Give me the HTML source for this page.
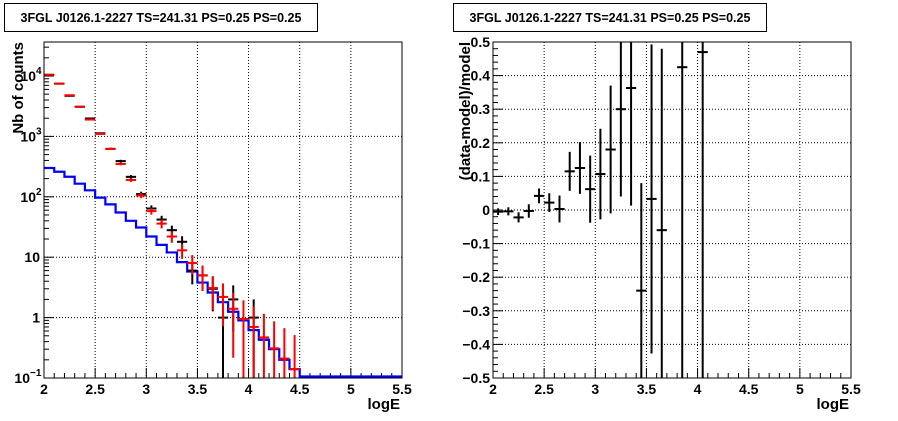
<!DOCTYPE html>
<html><head><meta charset="utf-8"><style>
body{margin:0;background:#fff;}
svg{display:block;font-family:"Liberation Sans",Arial,sans-serif;font-weight:bold;}
</style></head><body>
<svg id="s" width="898" height="421" viewBox="0 0 898 421"></svg>
<script>
const binCenters=[2.05,2.15,2.25,2.35,2.45,2.55,2.65,2.75,2.85,2.95,3.05,3.15,3.25,3.35,3.45,3.55,3.65,3.75,3.85,3.95,4.05,4.15,4.25,4.35,4.45];
const modelCounts=[10500,7500,4800,3100,1900,1100,620,350,190,105,58,36,22,13,8,5,3.1,2.2,1.4,0.95,0.7,0.47,0.31,0.21,0.14];
const dataCounts=[10450,7460,4700,3090,1980,1125,622,390,214,111,64,42,28,18,6,5,3,1,2,0,1,0,0,0,0];
const blueEdges=[2.0,2.1,2.2,2.3,2.4,2.5,2.6,2.7,2.8,2.9,3.0,3.1,3.2,3.3,3.4,3.5,3.6,3.7,3.8,3.9,4.0,4.1,4.2,4.3,4.4,4.5,5.5];
const blueValues=[300,260,215,165,128,97,75,55,40,31,22,16,12,8.3,5.8,3.8,2.6,1.8,1.25,0.9,0.62,0.43,0.3,0.2,0.14,0.1];
const residCenters=[2.05,2.15,2.25,2.35,2.45,2.55,2.65,2.75,2.85,2.95,3.05,3.15,3.25,3.35,3.45,3.55,3.65,3.85,4.05];
const residValues=[-0.005,-0.004,-0.022,-0.003,0.042,0.022,0.003,0.115,0.125,0.062,0.107,0.18,0.3,0.363,-0.24,0.033,-0.06,0.425,0.47];
const residErrors=[0.01,0.012,0.015,0.02,0.022,0.028,0.04,0.058,0.077,0.1,0.135,0.19,0.26,0.35,0.32,0.46,0.54,1.0,1.1];
const xTicks=["2","2.5","3","3.5","4","4.5","5","5.5"];
const rTicks=["0.5","0.4","0.3","0.2","0.1","0","−0.1","−0.2","−0.3","−0.4","−0.5"];

const S=document.getElementById('s'),NS='http://www.w3.org/2000/svg';
function el(t,a,p){const e=document.createElementNS(NS,t);for(const k in a)e.setAttribute(k,a[k]);(p||S).appendChild(e);return e;}
function txt(s,a,name){const e=el('text',a);e.textContent=s;return e;}

function panel(name){
  const g=el('g',{});
  
  
  return g;
}
function frameAndX(g,L,R,T,B,xs,pfx){
  for(let i=1;i<7;i++){const x=xs(2+i*0.5);el('line',{x1:x,x2:x,y1:T,y2:B,stroke:'#000','stroke-dasharray':'1,2','stroke-width':1},g);}
  for(let i=0;i<=35;i++){const v=2+i*0.1,x=xs(v);const len=(i%5==0)?10:5;el('line',{x1:x,x2:x,y1:B,y2:B-len,stroke:'#000'},g);}
  xTicks.forEach((t,i)=>txt(t,{x:xs(2+i*0.5),y:B+16,'font-size':14,'text-anchor':'middle'},pfx+'-x-tick-label'));
  txt('logE',{x:R-2,y:B+31,'font-size':15,'text-anchor':'end'},pfx+'-x-axis-title');
}

// LEFT
const L1=44,R1=402,T1=42,B1=378;
const xs1=v=>L1+(v-2)/3.5*(R1-L1);
const dec=60.4, ys1=v=>B1-(Math.log10(Math.max(v,1e-3))+1)*dec;
const gl=panel('counts-panel');
frameAndX(gl,L1,R1,T1,B1,xs1,'counts');
[0,1,2,3,4].forEach(p=>{const y=ys1(Math.pow(10,p-1));if(p>0)el('line',{x1:L1,x2:R1,y1:y,y2:y,stroke:'#000','stroke-dasharray':'1,2'},gl);});
for(let p=-1;p<=4;p++){for(let m=1;m<10;m++){const v=m*Math.pow(10,p),y=ys1(v);if(y<T1||y>B1)continue;el('line',{x1:L1,x2:L1+(m==1?10:5),y1:y,y2:y,stroke:'#000'},gl);}}
const ylab=[["10","−1"],["1",""],["10",""],["10","2"],["10","3"],["10","4"]];
ylab.forEach((l,i)=>{const y=ys1(Math.pow(10,i-1))+5;
 const ex=l[1]=="−1"?L1-14:L1-8;
 txt(l[0],{x:l[1]?ex:L1-4,y:y,'font-size':14,'text-anchor':'end'},'counts-y-tick-label');
 if(l[1]){txt(l[1],{x:ex,y:y-7,'font-size':10,'text-anchor':'start'},'counts-y-tick-exponent');}});
txt('Nb of counts',{x:0,y:0,'font-size':15,'text-anchor':'end',transform:`translate(23,${T1}) rotate(-90)`},'counts-y-axis-title');
const cp=el('clipPath',{id:'c1'});el('rect',{x:L1,y:T1,width:R1-L1,height:B1-T1},cp);
let d='';blueValues.forEach((v,i)=>{const y=Math.min(ys1(v),B1-1.5);d+=(i==0?'M':'L')+xs1(blueEdges[i])+','+y+'L'+xs1(blueEdges[i+1])+','+y;});
const bl=el('path',{d:d,fill:'none',stroke:'#0000ff','stroke-width':2.2,'clip-path':'url(#c1)'},gl);

function pt(g,xc,v,err,col,name){
  const x=xs1(xc),y=ys1(v),lo=Math.min(ys1(v-err),B1),hi=Math.max(ys1(v+err),T1);
  const gg=el('g',{},g);
  if(v>0){el('line',{x1:xs1(xc-0.05),x2:xs1(xc+0.05),y1:y,y2:y,stroke:col,'stroke-width':2},gg);}
  el('line',{x1:x,x2:x,y1:v-err<=0?B1:lo,y2:hi,stroke:col,'stroke-width':2},gg);
}
binCenters.forEach((c,i)=>{const n=dataCounts[i];if(n>0)pt(gl,c,n,Math.sqrt(n),'#000','data-point');});
binCenters.forEach((c,i)=>{const m=modelCounts[i];pt(gl,c,m,Math.sqrt(m),'#ff0000','model-point');});
el('rect',{x:L1,y:T1,width:R1-L1,height:B1-T1,fill:'none',stroke:'#000'},gl);

// RIGHT
const L2=493,R2=851,T2=42,B2=378;
const xs2=v=>L2+(v-2)/3.5*(R2-L2);
const ys2=v=>B2-(v+0.5)*(B2-T2);
const gr=panel('residual-panel');
frameAndX(gr,L2,R2,T2,B2,xs2,'residual');
rTicks.forEach((t,i)=>{const v=0.5-i*0.1,y=ys2(v);if(i>0&&i<10)el('line',{x1:L2,x2:R2,y1:y,y2:y,stroke:'#000','stroke-dasharray':'1,2'},gr);
 txt(t,{x:L2-3,y:y+5,'font-size':14,'text-anchor':'end'},'residual-y-tick-label');});
for(let i=0;i<=50;i++){const y=ys2(-0.5+i*0.02);el('line',{x1:L2,x2:L2+(i%5==0?10:5),y1:y,y2:y,stroke:'#000'},gr);}
txt('(data-model)/model',{x:0,y:0,'font-size':15,'text-anchor':'end',transform:`translate(470,${T2}) rotate(-90)`},'residual-y-axis-title');
residCenters.forEach((c,i)=>{const v=residValues[i],e=residErrors[i];const g=el('g',{},gr);
 const y=ys2(v);el('line',{x1:xs2(c-0.05),x2:xs2(c+0.05),y1:y,y2:y,stroke:'#000','stroke-width':2},g);
 el('line',{x1:xs2(c),x2:xs2(c),y1:Math.min(ys2(v-e),B2),y2:Math.max(ys2(v+e),T2),stroke:'#000','stroke-width':2},g);});
el('rect',{x:L2,y:T2,width:R2-L2,height:B2-T2,fill:'none',stroke:'#000'},gr);

[[4,'counts'],[453,'residual']].forEach(([x,n])=>{const r=el('rect',{x:x+0.5,y:3.5,width:313,height:28,fill:'#fff',stroke:'#000'});
 txt('3FGL J0126.1-2227 TS=241.31 PS=0.25 PS=0.25',{x:x+157,y:22,'font-size':12.5,'text-anchor':'middle'},n+'-title');});
</script>
</body></html>
